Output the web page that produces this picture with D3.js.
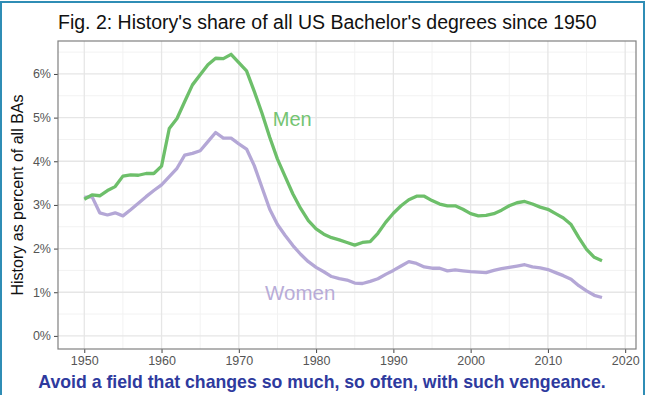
<!DOCTYPE html>
<html>
<head>
<meta charset="utf-8">
<script src="https://cdn.jsdelivr.net/npm/d3@7"></script>
<style>
  body { margin: 0; background: #fff; }
  svg { display: block; font-family: "Liberation Sans", Arial, sans-serif; }
</style>
</head>
<body>
<div id="vis"></div>
<script>
const years = d3.range(1950, 2018);

const menShare = [
  3.13, 3.23, 3.21, 3.33, 3.42, 3.66, 3.69, 3.68, 3.72, 3.72,
  3.89, 4.75, 4.98, 5.37, 5.75, 5.98, 6.21, 6.36, 6.35, 6.45,
  6.26, 6.07, 5.6, 5.1, 4.55, 4.05, 3.65, 3.25, 2.92, 2.64,
  2.45, 2.33, 2.25, 2.2, 2.14, 2.08, 2.14, 2.16, 2.35, 2.6,
  2.81, 2.98, 3.12, 3.2, 3.2, 3.1, 3.02, 2.98, 2.98, 2.9,
  2.8, 2.75, 2.76, 2.8, 2.88, 2.98, 3.05, 3.08, 3.02, 2.95,
  2.9, 2.8, 2.7, 2.55, 2.25, 1.98, 1.8, 1.72
];

const womenShare = [
  3.17, 3.19, 2.82, 2.77, 2.82, 2.75, 2.89, 3.04, 3.19, 3.33,
  3.46, 3.65, 3.84, 4.14, 4.18, 4.24, 4.45, 4.66, 4.53, 4.53,
  4.4, 4.28, 3.9, 3.4, 2.9, 2.55, 2.3, 2.07, 1.87, 1.7,
  1.57, 1.47, 1.36, 1.31, 1.28, 1.21, 1.2, 1.25, 1.31, 1.41,
  1.5, 1.6, 1.7, 1.66, 1.58, 1.55, 1.55, 1.49, 1.51, 1.49,
  1.47, 1.46, 1.45, 1.5, 1.54, 1.57, 1.6, 1.63, 1.58, 1.56,
  1.52, 1.45, 1.38, 1.3, 1.15, 1.03, 0.93, 0.88
];

const xTicks = [1950, 1960, 1970, 1980, 1990, 2000, 2010, 2020];
const yTicks = [0, 1, 2, 3, 4, 5, 6];

const W = 648, H = 395;
const margin = { top: 41, right: 12, bottom: 46, left: 58 };
const width = W - margin.left - margin.right;
const height = H - margin.top - margin.bottom;

const svg = d3.select("#vis").append("svg")
  .attr("width", W).attr("height", H);

// outer frame
svg.append("rect")
  .attr("x", 1).attr("y", 2)
  .attr("width", 643).attr("height", 420)
  .attr("fill", "none")
  .attr("stroke", "#2f8db5")
  .attr("stroke-width", 2);

const x = d3.scaleLinear().domain([1946.6, 2021.4]).range([0, width]);
const y = d3.scaleLinear().domain([-0.3, 6.755]).range([height, 0]);

const g = svg.append("g")
  .attr("transform", `translate(${margin.left},${margin.top})`);

// minor grid
const xMinor = xTicks.slice(0, -1).map(d => d + 5);
const yMinor = yTicks.map(d => d + 0.5);
g.selectAll(".xminor").data(xMinor).join("line")
  .attr("x1", d => x(d)).attr("x2", d => x(d))
  .attr("y1", 0).attr("y2", height)
  .attr("stroke", "#f2f2f2").attr("stroke-width", 1);
g.selectAll(".yminor").data(yMinor).join("line")
  .attr("x1", 0).attr("x2", width)
  .attr("y1", d => y(d)).attr("y2", d => y(d))
  .attr("stroke", "#f2f2f2").attr("stroke-width", 1);

// major grid
g.selectAll(".xmajor").data(xTicks).join("line")
  .attr("x1", d => x(d)).attr("x2", d => x(d))
  .attr("y1", 0).attr("y2", height)
  .attr("stroke", "#e6e6e6").attr("stroke-width", 1.3);
g.selectAll(".ymajor").data(yTicks).join("line")
  .attr("x1", 0).attr("x2", width)
  .attr("y1", d => y(d)).attr("y2", d => y(d))
  .attr("stroke", "#e6e6e6").attr("stroke-width", 1.3);

// axes
const xAxis = g.append("g")
  .attr("transform", `translate(0,${height})`)
  .call(d3.axisBottom(x).tickValues(xTicks).tickFormat(d3.format("d"))
    .tickSize(4).tickPadding(3));
const yAxis = g.append("g")
  .call(d3.axisLeft(y).tickValues(yTicks).tickFormat(d => d + "%")
    .tickSize(4).tickPadding(3));
[xAxis, yAxis].forEach(a => {
  a.select(".domain").remove();
  a.selectAll(".tick line").attr("stroke", "#444");
  a.selectAll("text")
    .attr("fill", "#555")
    .attr("font-size", 12.5)
    .attr("font-family", "Liberation Sans, Arial, sans-serif");
});

// panel border
g.append("rect")
  .attr("width", width).attr("height", height)
  .attr("fill", "none")
  .attr("stroke", "#808080")
  .attr("stroke-width", 1.2);

// lines
const line = d3.line()
  .x((d, i) => x(years[i]))
  .y(d => y(d));

g.append("path")
  .datum(womenShare)
  .attr("d", line)
  .attr("fill", "none")
  .attr("stroke", "#b4a7d6")
  .attr("stroke-width", 3.3)
  .attr("stroke-linejoin", "round");

g.append("path")
  .datum(menShare)
  .attr("d", line)
  .attr("fill", "none")
  .attr("stroke", "#6dbf6a")
  .attr("stroke-width", 3.3)
  .attr("stroke-linejoin", "round");

// labels
g.append("text")
  .attr("x", x(1974.4)).attr("y", y(4.8))
  .text("Men")
  .attr("font-size", 20)
  .attr("fill", "#74c471");

g.append("text")
  .attr("x", x(1973.4)).attr("y", y(0.82))
  .text("Women")
  .attr("font-size", 20.5)
  .attr("fill", "#b8acd8");

// y axis title
svg.append("text")
  .attr("transform", `translate(23,${margin.top + height / 2}) rotate(-90)`)
  .attr("text-anchor", "middle")
  .attr("font-size", 16)
  .attr("fill", "#111")
  .text("History as percent of all BAs");

// title
svg.append("text")
  .attr("x", margin.left).attr("y", 29)
  .attr("font-size", 19.5)
  .attr("fill", "#111")
  .text("Fig. 2: History's share of all US Bachelor's degrees since 1950");

// caption
svg.append("text")
  .attr("x", 322).attr("y", 388)
  .attr("text-anchor", "middle")
  .attr("font-size", 17.7)
  .attr("font-weight", "bold")
  .attr("fill", "#2e3a9e")
  .text("Avoid a field that changes so much, so often, with such vengeance.");
</script>
</body>
</html>
